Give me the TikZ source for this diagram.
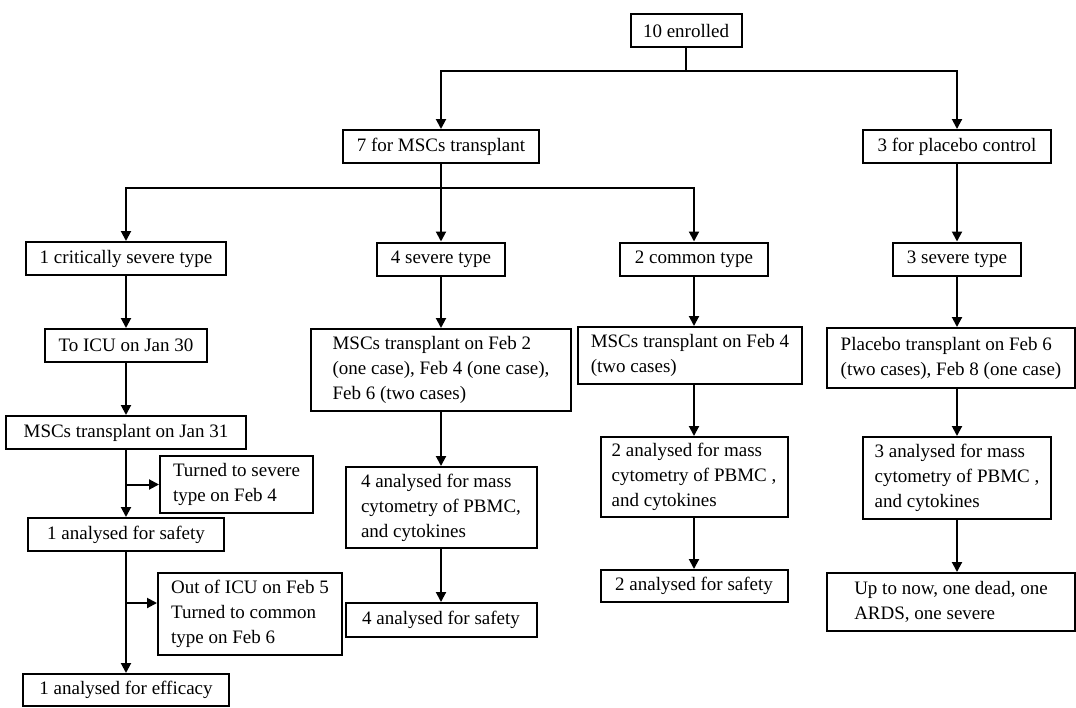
\documentclass[tikz,border=0pt]{standalone}
\usepackage{fontspec}
\setmainfont{Liberation Serif}
\usetikzlibrary{arrows.meta,positioning,calc}

\begin{document}
\begin{tikzpicture}[x=0.5pt, y=-0.5pt,
    box/.style={draw, line width=1pt, inner xsep=3pt, inner ysep=0pt, align=left,
      font=\fontsize{9.5}{12.5}\selectfont, minimum height=16.5pt},
    ln/.style={line width=1pt},
    arr/.style={line width=1pt, -{Triangle[length=5pt,width=5pt]}}]
    \useasboundingbox (0,0) rectangle (1076,707);

    % top levels
    \node[box, minimum width=55.5pt] (enrolled) at (686,30.5) {10 enrolled};
    \node[box, minimum width=98pt] (msc) at (441,146.5) {7 for MSCs transplant};
    \node[box, minimum width=94pt] (placebo) at (957,146.5) {3 for placebo control};

    % types
    \node[box, minimum width=100pt] (crit) at (126,258.5) {1 critically severe type};
    \node[box, minimum width=64pt] (sev4) at (441,259) {4 severe type};
    \node[box, minimum width=74pt] (com2) at (694,259) {2 common type};
    \node[box, minimum width=64pt] (sev3) at (957,259) {3 severe type};

    % critically severe case
    \node[box, minimum width=81pt] (icu) at (126,345.5) {To ICU on Jan 30};
    \node[box, minimum width=120pt] (jan31) at (126,432.5) {MSCs transplant on Jan 31};
    \node[box, minimum width=76.5pt, minimum height=28.5pt] (turn4) at (236.5,484.5)
        {Turned to severe\\type on Feb 4};
    \node[box, minimum width=98pt] (safe1) at (126,534.5) {1 analysed for safety};
    \node[box, minimum width=92pt, minimum height=41pt] (outicu) at (250,614)
        {Out of ICU on Feb 5\\Turned to common\\type on Feb 6};
    \node[box, minimum width=103pt, minimum height=16pt] (eff1) at (126,690) {1 analysed for efficacy};

    % severe cases
    \node[box, minimum width=130pt, minimum height=41pt] (tx4) at (441,370)
        {MSCs transplant on Feb 2\\(one case), Feb 4 (one case),\\Feb 6 (two cases)};
    \node[box, minimum width=95.5pt, minimum height=40.5pt] (mass4) at (441,507.5)
        {4 analysed for mass\\cytometry of PBMC,\\and cytokines};
    \node[box, minimum width=95.5pt, minimum height=17pt] (safe4) at (441,620) {4 analysed for safety};

    % common cases
    \node[box, minimum width=112pt, minimum height=28.5pt] (tx2) at (690,355.5)
        {MSCs transplant on Feb 4\\(two cases)};
    \node[box, minimum width=93.5pt, minimum height=40pt] (mass2) at (694,477)
        {2 analysed for mass\\cytometry of PBMC ,\\and cytokines};
    \node[box, minimum width=93.5pt, minimum height=16pt] (safe2) at (694,586) {2 analysed for safety};

    % placebo
    \node[box, minimum width=124pt, minimum height=30pt] (txp) at (951,358)
        {Placebo transplant on Feb 6\\(two cases), Feb 8 (one case)};
    \node[box, minimum width=94pt, minimum height=41pt] (mass3) at (957,478)
        {3 analysed for mass\\cytometry of PBMC ,\\and cytokines};
    \node[box, minimum width=124pt, minimum height=29pt] (upto) at (951,602)
        {Up to now, one dead, one\\ARDS, one severe};

    % splits
    \coordinate (split1) at (686,71);
    \coordinate (split2) at (441,188);
    \draw[ln] (enrolled.south) -- (split1);
    \draw[arr] (split1) -| (msc.north);
    \draw[arr] (split1) -| (placebo.north);
    \draw[ln] (msc.south) -- (split2);
    \draw[arr] (split2) -| (crit.north);
    \draw[arr] (split2) -- (sev4.north);
    \draw[arr] (split2) -| (com2.north);
    \draw[arr] (placebo.south) -- (sev3.north);

    % column 1
    \draw[arr] (crit.south) -- (icu.north);
    \draw[arr] (icu.south) -- (jan31.north);
    \draw[arr] (jan31.south) -- (safe1.north);
    \draw[arr] (jan31.south |- turn4.west) -- (turn4.west);
    \draw[arr] (safe1.south) -- (eff1.north);
    \coordinate (outtip) at ([yshift=5.5pt]outicu.west);
    \draw[arr] (safe1.south |- outtip) -- (outtip);

    % column 2
    \draw[arr] (sev4.south) -- (tx4.north);
    \draw[arr] (tx4.south) -- (mass4.north);
    \draw[arr] (mass4.south) -- (safe4.north);

    % column 3
    \draw[arr] (com2.south) -- (com2.south |- tx2.north);
    \draw[arr] (tx2.south -| com2) -- (mass2.north);
    \draw[arr] (mass2.south) -- (safe2.north);

    % column 4
    \draw[arr] (sev3.south) -- (sev3.south |- txp.north);
    \draw[arr] (txp.south -| sev3) -- (mass3.north);
    \draw[arr] (mass3.south) -- (mass3.south |- upto.north);
\end{tikzpicture}
\end{document}
